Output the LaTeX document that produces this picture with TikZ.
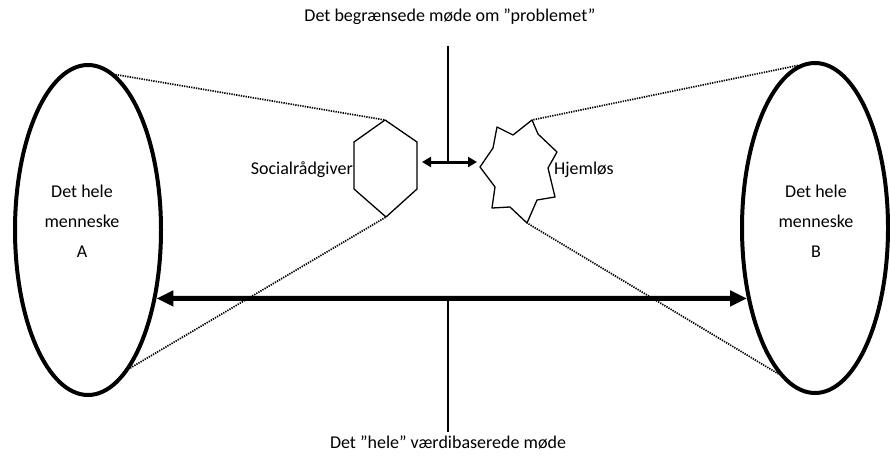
\documentclass[tikz,border=0pt]{standalone}
\usepackage{fontspec}
\setmainfont{Carlito}
\usetikzlibrary{arrows.meta,shapes.geometric,calc}
\begin{document}
\begin{tikzpicture}[x=1pt,y=-1pt,
  every node/.style={font=\fontsize{18}{30}\selectfont},
  person/.style={ellipse,draw,line width=4pt,minimum width=146pt,minimum height=330pt,inner sep=0pt},
  figline/.style={line width=1.3pt,line join=round},
  dotline/.style={line width=1.7pt,dash pattern=on 1.3pt off 1.1pt},
  mainarrow/.style={line width=5pt,{Triangle[length=17pt,width=15pt]}-{Triangle[length=17pt,width=15pt]}},
  smallarrow/.style={line width=3pt,{Triangle[length=9pt,width=10pt]}-{Triangle[length=9pt,width=10pt]}},
  stem/.style={line width=1.3pt}]
\useasboundingbox (0,0) rectangle (890,461);
% people
\node[person] (A) at (88,230) {};
\node[person] (B) at (815,228) {};
\node[align=center] (Atxt) at (82,221) {Det hele\\menneske\\A};
\node[align=center] (Btxt) at (816,221) {Det hele\\menneske\\B};
% hexagon
\coordinate (h1) at (385,120);
\coordinate (h2) at (417,142);
\coordinate (h3) at (417,189);
\coordinate (h4) at (386,217);
\coordinate (h5) at (354,189);
\coordinate (h6) at (354,142);
\draw[figline] (h1) -- (h2) -- (h3) -- (h4) -- (h5) -- (h6) -- cycle;
% star
\coordinate (s1) at (497,127);
\coordinate (s2) at (532,120);
\coordinate (s3) at (557,152);
\coordinate (s4) at (555,197);
\coordinate (s5) at (527,223);
\coordinate (s6) at (492,208);
\coordinate (s7) at (480,167);
\draw[figline] (s1) -- (513,135) -- (s2) -- (538,134) -- (s3) -- (548,168) -- (s4) -- (537,200) -- (s5) -- (510,207) -- (s6) -- (495,187) -- (s7) -- (493,148) -- cycle;
% labels
\node[anchor=east,inner sep=1pt] (soc) at (h5 |- 0,170) {Socialrådgiver};
\node[anchor=west,inner sep=1pt] (hj) at (553,170) {Hjemløs};
\node (top) at (450,17) {Det begrænsede møde om "problemet"};
\node (bot) at (448,442) {Det "hele" værdibaserede møde};
% dotted projection lines
\draw[dotline] (A.80) -- (h1);
\draw[dotline] (A.-73) -- (h4);
\draw[dotline] (B.96) -- (s2);
\draw[dotline] (B.256) -- (s5);
% arrows
\draw[mainarrow] (A.-45) -- (B.226);
\coordinate (d1) at (422,162);
\coordinate (d2) at (477,162);
\draw[smallarrow] (d1) -- (d2);
\coordinate (t1) at (448,46);
\draw[stem] (t1) -- (t1 |- d1);
\draw[stem] (bot.north) -- (bot.north |- A.-45);
\end{tikzpicture}
\end{document}
